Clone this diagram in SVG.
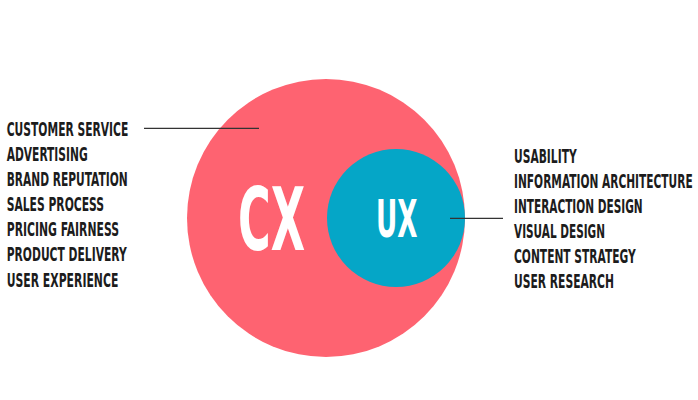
<svg xmlns="http://www.w3.org/2000/svg" width="698" height="400" viewBox="0 0 698 400">
<style>
.lbl{font-family:"Liberation Sans Narrow","DejaVu Sans Condensed","Liberation Sans",sans-serif;font-weight:bold;font-size:19.5px;fill:#1c1c1c}
.big{font-family:"Liberation Sans Narrow","DejaVu Sans Condensed","Liberation Sans",sans-serif;font-weight:bold;fill:#ffffff}
.conn{stroke:#333333;stroke-width:1.2;fill:none}
</style>
<rect width="698" height="400" fill="#ffffff"/>
<g id="cx">
<circle cx="326" cy="218" r="139" fill="#fe6371"/>
<text class="big" x="238" y="250" font-size="88" textLength="67" lengthAdjust="spacingAndGlyphs">CX</text>
</g>
<g id="ux">
<circle cx="396" cy="218" r="69" fill="#05a6c7"/>
<text class="big" x="376" y="236.7" font-size="51" textLength="41.5" lengthAdjust="spacingAndGlyphs">UX</text>
</g>
<g id="connectors">
<line class="conn" x1="144" y1="128.3" x2="259" y2="128.3"/>
<line class="conn" x1="450" y1="218.3" x2="503" y2="218.3"/>
</g>
<g id="cx-list">
<text class="lbl" x="6.7" y="136" textLength="121.6" lengthAdjust="spacingAndGlyphs">CUSTOMER SERVICE</text>
<text class="lbl" x="6.7" y="161" textLength="81" lengthAdjust="spacingAndGlyphs">ADVERTISING</text>
<text class="lbl" x="6.7" y="186" textLength="121" lengthAdjust="spacingAndGlyphs">BRAND REPUTATION</text>
<text class="lbl" x="6.7" y="211" textLength="97.3" lengthAdjust="spacingAndGlyphs">SALES PROCESS</text>
<text class="lbl" x="6.7" y="236" textLength="112.3" lengthAdjust="spacingAndGlyphs">PRICING FAIRNESS</text>
<text class="lbl" x="6.7" y="261" textLength="120" lengthAdjust="spacingAndGlyphs">PRODUCT DELIVERY</text>
<text class="lbl" x="6.7" y="286.5" textLength="111.6" lengthAdjust="spacingAndGlyphs">USER EXPERIENCE</text>
</g>
<g id="ux-list">
<text class="lbl" x="514" y="162.5" textLength="62.7" lengthAdjust="spacingAndGlyphs">USABILITY</text>
<text class="lbl" x="514" y="187.5" textLength="178.7" lengthAdjust="spacingAndGlyphs">INFORMATION ARCHITECTURE</text>
<text class="lbl" x="514" y="212.5" textLength="128.7" lengthAdjust="spacingAndGlyphs">INTERACTION DESIGN</text>
<text class="lbl" x="514" y="237.5" textLength="91" lengthAdjust="spacingAndGlyphs">VISUAL DESIGN</text>
<text class="lbl" x="514" y="262.5" textLength="121.7" lengthAdjust="spacingAndGlyphs">CONTENT STRATEGY</text>
<text class="lbl" x="514" y="287.5" textLength="100" lengthAdjust="spacingAndGlyphs">USER RESEARCH</text>
</g>
</svg>
